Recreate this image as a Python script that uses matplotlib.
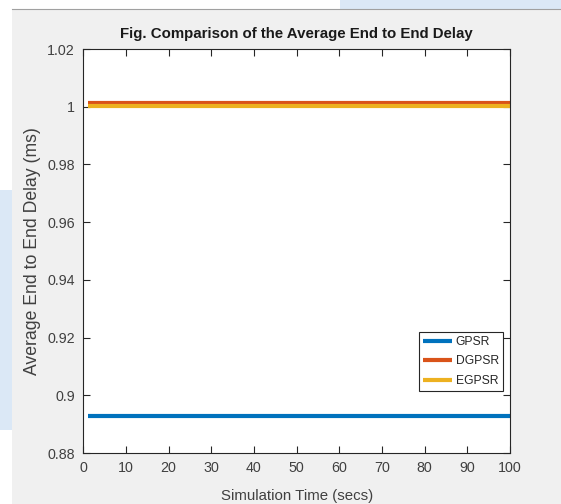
import matplotlib
matplotlib.use('Agg')
import matplotlib.pyplot as plt
from matplotlib.patches import Rectangle

plt.rcParams['font.family'] = ['Liberation Sans', 'DejaVu Sans']

# data
sim_time = [1, 100]
series_names = ['GPSR', 'DGPSR', 'EGPSR']
series_values = [[0.8929, 0.8929], [1.0012, 1.0012], [1.0003, 1.0003]]
series_colors = ['#0072bd', '#d95319', '#edb120']
x_ticks = [0, 10, 20, 30, 40, 50, 60, 70, 80, 90, 100]
y_ticks = [0.88, 0.9, 0.92, 0.94, 0.96, 0.98, 1.0, 1.02]
y_tick_labels = ['0.88', '0.9', '0.92', '0.94', '0.96', '0.98', '1', '1.02']

fig = plt.figure(figsize=(5.61, 5.04), dpi=100)
fig.patch.set_facecolor('white')

# light blue watermark bits outside the grey panel, then the grey matlab panel
bg = [((340 / 561, 1 - 9 / 504), 221 / 561, 9 / 504, '#dbe8f6'),
      ((0, 1 - 430 / 504), 12 / 561, 240 / 504, '#dbe8f6'),
      ((12 / 561, 0), 549 / 561, 495 / 504, '#f0f0f0')]
for xy, w, h, c in bg:
    fig.add_artist(Rectangle(xy, w, h, transform=fig.transFigure, facecolor=c,
                             edgecolor='none', zorder=-5))
fig.add_artist(plt.Line2D([12 / 561, 1], [495 / 504, 495 / 504],
                          transform=fig.transFigure, color='#a0a0a0', lw=0.8, zorder=-4))

ax = fig.add_axes([83.3 / 561, 1 - 453 / 504, 426.7 / 561, 404 / 504])
ax.set_facecolor('white')

for name, vals, col in zip(series_names, series_values, series_colors):
    ax.plot(sim_time, vals, color=col, lw=3, label=name, solid_capstyle='butt')

ax.set_xlim(0, 100)
ax.set_ylim(0.88, 1.02)
ax.set_xticks(x_ticks)
ax.set_yticks(y_ticks)
ax.set_yticklabels(y_tick_labels)
ax.tick_params(direction='in', length=5, width=0.8, top=True, right=True,
               labelsize=10.3, colors='#262626', labelcolor='#404040', pad=6)
for sp in ax.spines.values():
    sp.set_color('#262626')
    sp.set_linewidth(0.8)

ax.set_title('Fig. Comparison of the Average End to End Delay',
             fontsize=10.8, fontweight='bold', color='#1a1a1a', pad=8)
ax.set_xlabel('Simulation Time (secs)', fontsize=10.8, color='#404040', labelpad=10)
ax.set_ylabel('Average End to End Delay (ms)', fontsize=12.7, color='#404040')
ax.yaxis.set_label_coords(-0.1, 0.5)

leg = ax.legend(loc='upper right', bbox_to_anchor=(0.9836, 0.2995), borderaxespad=0,
                fontsize=8.7, fancybox=False, framealpha=1, edgecolor='#262626',
                handlelength=2.4, handletextpad=0.3, labelspacing=0.6,
                borderpad=0.35)
leg.get_frame().set_linewidth(0.8)
for t in leg.get_texts():
    t.set_color('#262626')

fig.savefig('out.png', dpi=100)
